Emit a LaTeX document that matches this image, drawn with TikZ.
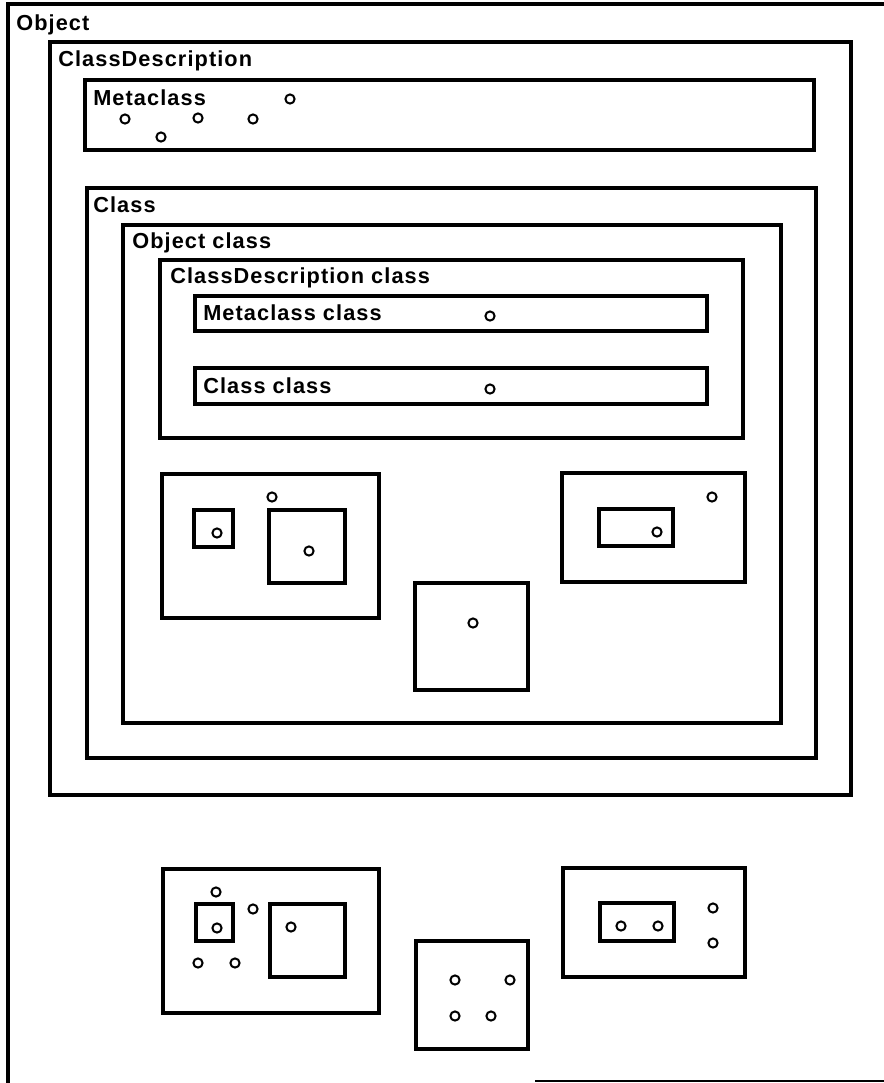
\documentclass[tikz,border=0pt]{standalone}
\usepackage{fontspec}
\setmainfont{Liberation Sans}[LetterSpace=5]
\begin{document}
\begin{tikzpicture}[x=0.75pt,y=-0.75pt,
  box/.style={draw,line width=2.6pt},
  obj/.style={draw,line width=1.5pt},
  lbl/.style={anchor=base west,inner sep=0pt,font=\fontsize{16.3}{19}\selectfont\bfseries}]
\useasboundingbox (0,0) rectangle (884,1083);
% Object (extends beyond the page)
\draw[box] (8,1083) -- (8,4) -- (884,4);
\draw[line width=1.2pt] (535,1081) -- (884,1081);
\node[lbl] (lObject) at (16,30) {Object};
% ClassDescription
\draw[box] (50,42) rectangle (851,795);
\node[lbl] (lCD) at (58,66) {ClassDescription};
% Metaclass
\draw[box] (85,80) rectangle (814,150);
\node[lbl] (lMeta) at (93,105) {Metaclass};
\foreach \p in {(290,99),(125,119),(198,118),(253,119),(161,137)}
  \draw[obj] \p circle[radius=4.6];
% Class
\draw[box] (87,188) rectangle (816,758);
\node[lbl] (lClass) at (93,212) {Class};
% Object class
\draw[box] (123,225) rectangle (781,723);
\node[lbl] (lOC) at (132,248) {Object class};
% ClassDescription class
\draw[box] (160,260) rectangle (743,438);
\node[lbl] (lCDC) at (170,283) {ClassDescription class};
% Metaclass class
\draw[box] (195,296) rectangle (707,331);
\node[lbl] (lMC) at (203,320) {Metaclass class};
\draw[obj] (490,316) circle[radius=4.6];
% Class class
\draw[box] (195,368) rectangle (707,404);
\node[lbl] (lCC) at (203,393) {Class class};
\draw[obj] (490,389) circle[radius=4.6];
% inner instances (classes)
\draw[box] (162,474) rectangle (379,618);
\draw[box] (194,510) rectangle (233,547);
\draw[obj] (217,533) circle[radius=4.6];
\draw[obj] (272,497) circle[radius=4.6];
\draw[box] (269,510) rectangle (345,583);
\draw[obj] (309,551) circle[radius=4.6];
\draw[box] (415,583) rectangle (528,690);
\draw[obj] (473,623) circle[radius=4.6];
\draw[box] (562,473) rectangle (745,582);
\draw[box] (599,509) rectangle (673,546);
\draw[obj] (657,532) circle[radius=4.6];
\draw[obj] (712,497) circle[radius=4.6];
% bottom instances
\draw[box] (163,869) rectangle (379,1013);
\draw[box] (196,904) rectangle (233,941);
\draw[obj] (217,928) circle[radius=4.6];
\draw[obj] (216,892) circle[radius=4.6];
\draw[obj] (253,909) circle[radius=4.6];
\draw[obj] (198,963) circle[radius=4.6];
\draw[obj] (235,963) circle[radius=4.6];
\draw[box] (270,904) rectangle (345,977);
\draw[obj] (291,927) circle[radius=4.6];
\draw[box] (416,941) rectangle (528,1049);
\draw[obj] (455,980) circle[radius=4.6];
\draw[obj] (510,980) circle[radius=4.6];
\draw[obj] (455,1016) circle[radius=4.6];
\draw[obj] (491,1016) circle[radius=4.6];
\draw[box] (563,868) rectangle (745,977);
\draw[box] (600,903) rectangle (674,941);
\draw[obj] (621,926) circle[radius=4.6];
\draw[obj] (658,926) circle[radius=4.6];
\draw[obj] (713,908) circle[radius=4.6];
\draw[obj] (713,943) circle[radius=4.6];
\end{tikzpicture}
\end{document}
